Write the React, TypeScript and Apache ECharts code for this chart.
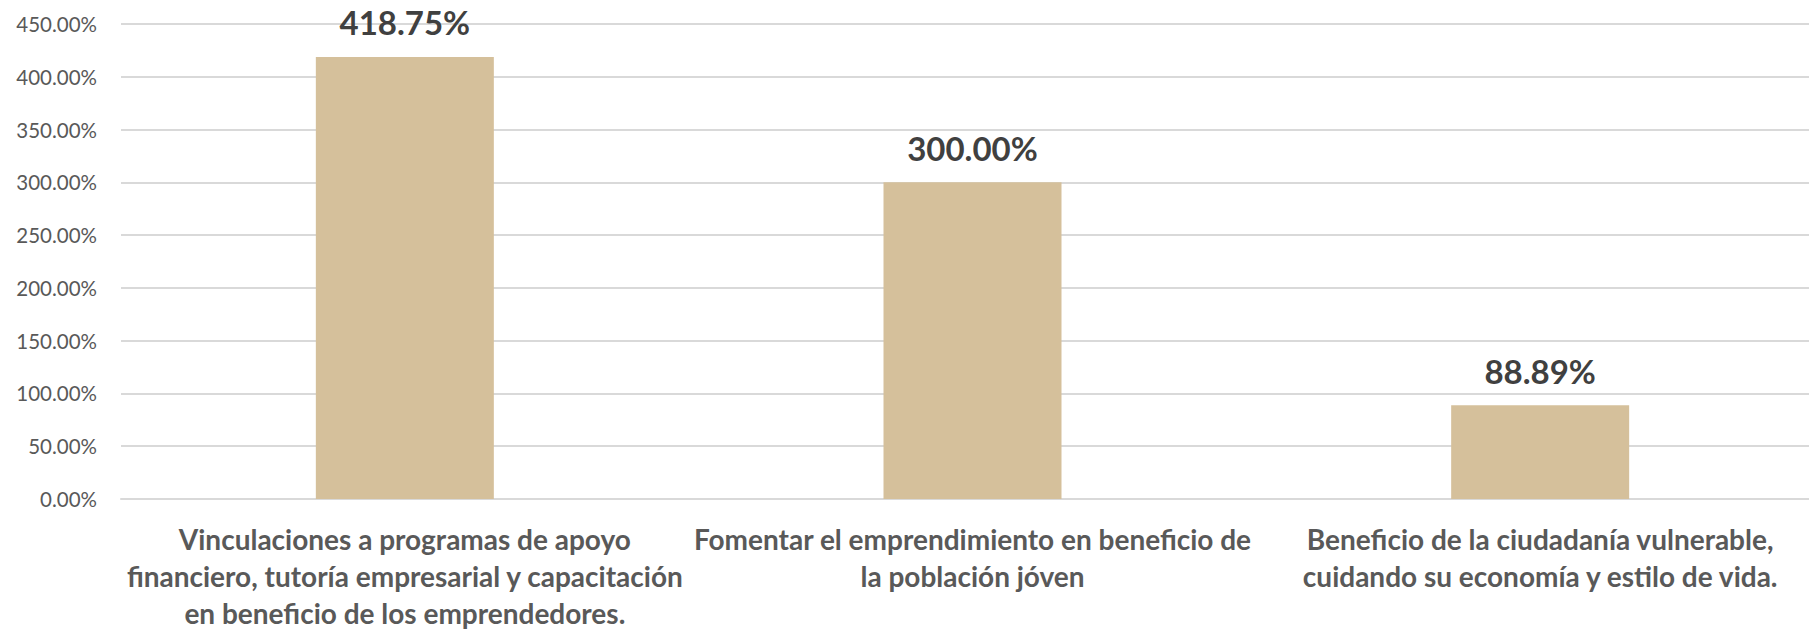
import React, { useEffect, useRef } from "react";
import * as echarts from "echarts";

const categories = [
  "Vinculaciones a programas de apoyo\nfinanciero, tutoría empresarial y capacitación\nen beneficio de los emprendedores.",
  "Fomentar el emprendimiento en beneficio de\nla población jóven",
  "Beneficio de la ciudadanía vulnerable,\ncuidando su economía y estilo de vida.",
];
const values = [418.75, 300.0, 88.89];
const yMin = 0;
const yMax = 450;
const yInterval = 50;

export default function App() {
  const ref = useRef<HTMLDivElement>(null);
  useEffect(() => {
    document.body.style.margin = "0";
    document.body.style.overflow = "hidden";
    document.documentElement.style.overflow = "hidden";
    if (!ref.current) return;
    const chart = echarts.init(ref.current, undefined, { renderer: "svg" });
    chart.setOption({
      animation: false,
      backgroundColor: "#ffffff",
      grid: { left: 121, right: 0, top: 24, bottom: 122, containLabel: false },
      xAxis: {
        type: "category",
        data: categories,
        axisLine: { show: true, lineStyle: { color: "#d9d9d9", width: 2 } },
        axisTick: { show: false },
        axisLabel: {
          interval: 0,
          margin: 21,
          color: "#595959",
          fontFamily: "Lato",
          fontWeight: "bold",
          fontSize: 28,
          lineHeight: 37,
          align: "center",
        },
      },
      yAxis: {
        type: "value",
        min: yMin,
        max: yMax,
        interval: yInterval,
        axisLine: { show: false },
        axisTick: { show: false },
        splitLine: { lineStyle: { color: "#d9d9d9", width: 2 } },
        axisLabel: {
          margin: 24,
          color: "#595959",
          fontFamily: "Lato",
          fontSize: 20.5,
          formatter: (v: number) => v.toFixed(2) + "%",
        },
      },
      series: [
        {
          type: "bar",
          data: values,
          barWidth: 178,
          itemStyle: { color: "#d5c09b" },
          label: {
            show: true,
            position: "top",
            distance: 18,
            color: "#404040",
            fontFamily: "Lato",
            fontWeight: "bold",
            fontSize: 33,
            formatter: (p: any) => Number(p.value).toFixed(2) + "%",
          },
        },
      ],
    });
    return () => chart.dispose();
  }, []);
  return (
    <div style={{ width: 1809, height: 631, overflow: "hidden" }}>
      <div ref={ref} style={{ width: 1824, height: 631 }} />
    </div>
  );
}
